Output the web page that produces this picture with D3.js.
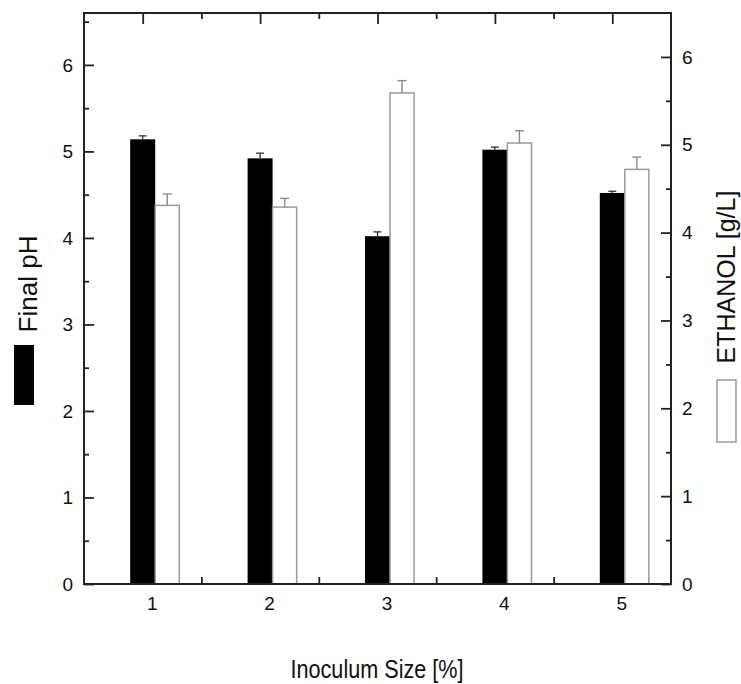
<!DOCTYPE html>
<html>
<head>
<meta charset="utf-8">
<script src="https://cdn.jsdelivr.net/npm/d3@7"></script>
<style>
  body { margin: 0; background: #fff; }
  svg { display: block; font-family: "Liberation Sans", Arial, sans-serif; }
</style>
</head>
<body>
<svg id="chart" width="741" height="684"></svg>
<script>
// inoculum size categories
const sizes = [1, 2, 3, 4, 5];
// final pH (left axis) and its error
const ph = [5.14, 4.92, 4.02, 5.02, 4.52];
const phErr = [0.04, 0.06, 0.05, 0.03, 0.02];
// ethanol g/L (right axis) and its error
const ethanol = [4.31, 4.29, 5.59, 5.02, 4.72];
const ethErr = [0.13, 0.10, 0.14, 0.14, 0.14];

const leftTicks = [0, 1, 2, 3, 4, 5, 6];
const rightTicks = [0, 1, 2, 3, 4, 5, 6];

function render() {
  const svg = d3.select('#chart');
  const L = 84, R = 671, T = 13, B = 584;

  const x = d3.scaleLinear().domain([0.5, 5.5]).range([L, R]);
  const yL = d3.scaleLinear().domain([0, 6.6]).range([B, T]);
  const yR = d3.scaleLinear().domain([0, 6.5]).range([B, T]);

  const unit = x(2) - x(1);
  const bw = unit * 0.213;   // black bar width
  const ww = unit * 0.205;   // white bar width

  // bars - black (pH)
  svg.selectAll('.bar-ph')
    .data(sizes)
    .enter()
    .append('rect')
    .attr('class', 'bar-ph')
    .attr('x', (d) => x(d) - bw / 2)
    .attr('y', (d, i) => yL(ph[i]))
    .attr('width', bw)
    .attr('height', (d, i) => B - yL(ph[i]))
    .attr('fill', '#000');

  // bars - white (ethanol)
  svg.selectAll('.bar-eth')
    .data(sizes)
    .enter()
    .append('rect')
    .attr('class', 'bar-eth')
    .attr('x', (d) => x(d) + bw / 2)
    .attr('y', (d, i) => yR(ethanol[i]))
    .attr('width', ww)
    .attr('height', (d, i) => B - yR(ethanol[i]))
    .attr('fill', '#fff')
    .attr('stroke', '#9a9a9a')
    .attr('stroke-width', 1.5);

  // error bars (upper half only)
  const cap = 4;
  sizes.forEach((d, i) => {
    const cx = x(d);
    svg.append('line').attr('x1', cx).attr('x2', cx)
      .attr('y1', yL(ph[i])).attr('y2', yL(ph[i] + phErr[i]))
      .attr('stroke', '#222').attr('stroke-width', 1.2);
    svg.append('line').attr('x1', cx - cap).attr('x2', cx + cap)
      .attr('y1', yL(ph[i] + phErr[i])).attr('y2', yL(ph[i] + phErr[i]))
      .attr('stroke', '#222').attr('stroke-width', 1.2);

    const wx = x(d) + bw / 2 + ww / 2;
    svg.append('line').attr('x1', wx).attr('x2', wx)
      .attr('y1', yR(ethanol[i])).attr('y2', yR(ethanol[i] + ethErr[i]))
      .attr('stroke', '#8a8a8a').attr('stroke-width', 1.4);
    svg.append('line').attr('x1', wx - cap - 0.5).attr('x2', wx + cap + 0.5)
      .attr('y1', yR(ethanol[i] + ethErr[i])).attr('y2', yR(ethanol[i] + ethErr[i]))
      .attr('stroke', '#8a8a8a').attr('stroke-width', 1.4);
  });

  const axisColor = '#222';

  // left axis
  const leftMinor = d3.range(0.5, 6.6, 1);
  const gl = svg.append('g').attr('transform', `translate(${L},0)`);
  gl.call(d3.axisRight(yL).tickValues(leftMinor).tickSize(5).tickFormat(''));
  gl.call(g => g.selectAll('.domain').remove());
  const gl2 = svg.append('g').attr('transform', `translate(${L},0)`);
  gl2.call(d3.axisLeft(yL).tickValues(leftTicks).tickSize(0).tickPadding(11).tickFormat(d3.format('d')));
  gl2.selectAll('.tick').append('line').attr('x2', 10);
  gl2.select('.domain').remove();

  // right axis
  const rightMinor = d3.range(0.5, 6.5, 1);
  const gr = svg.append('g').attr('transform', `translate(${R},0)`);
  gr.call(d3.axisLeft(yR).tickValues(rightMinor).tickSize(5).tickFormat(''));
  gr.call(g => g.selectAll('.domain').remove());
  const gr2 = svg.append('g').attr('transform', `translate(${R},0)`);
  gr2.call(d3.axisRight(yR).tickValues(rightTicks).tickSize(0).tickPadding(11).tickFormat(d3.format('d')));
  gr2.selectAll('.tick').append('line').attr('x2', -10);
  gr2.select('.domain').remove();

  // bottom axis
  const xMinor = d3.range(1.5, 5, 1);
  const gb = svg.append('g').attr('transform', `translate(0,${B})`);
  gb.call(d3.axisTop(x).tickValues(xMinor).tickSize(7).tickFormat(''));
  gb.select('.domain').remove();
  const gb2 = svg.append('g').attr('transform', `translate(0,${B})`);
  gb2.call(d3.axisBottom(x).tickValues(sizes).tickSize(0).tickPadding(13).tickFormat(d3.format('d')));
  gb2.select('.domain').remove();
  gb2.selectAll('.tick text').attr('dx', 9);

  // top axis
  const gt = svg.append('g').attr('transform', `translate(0,${T})`);
  gt.call(d3.axisBottom(x).tickValues(sizes).tickSize(11).tickFormat(''));
  gt.select('.domain').remove();
  const gt2 = svg.append('g').attr('transform', `translate(0,${T})`);
  gt2.call(d3.axisBottom(x).tickValues(xMinor).tickSize(6).tickFormat(''));
  gt2.select('.domain').remove();

  svg.selectAll('.tick line').attr('stroke', axisColor).attr('stroke-width', 1.8);
  svg.selectAll('.tick text')
    .attr('font-size', 19)
    .attr('fill', '#111')
    .attr('font-family', '"Liberation Sans", Arial, sans-serif');

  // frame
  svg.append('rect')
    .attr('x', L).attr('y', T)
    .attr('width', R - L).attr('height', B - T)
    .attr('fill', 'none')
    .attr('stroke', axisColor)
    .attr('stroke-width', 2);

  // axis titles
  svg.append('text')
    .attr('x', 377).attr('y', 678)
    .attr('text-anchor', 'middle')
    .attr('font-size', 25)
    .attr('textLength', 173)
    .attr('lengthAdjust', 'spacingAndGlyphs')
    .attr('fill', '#111')
    .text('Inoculum Size [%]');

  svg.append('text')
    .attr('transform', 'translate(37,284) rotate(-90)')
    .attr('text-anchor', 'middle')
    .attr('font-size', 26)
    .attr('fill', '#111')
    .text('Final pH');

  svg.append('text')
    .attr('transform', 'translate(735,277) rotate(-90)')
    .attr('text-anchor', 'middle')
    .attr('font-size', 25)
    .attr('fill', '#111')
    .text('ETHANOL [g/L]');

  // legend swatches
  svg.append('rect')
    .attr('x', 14).attr('y', 345).attr('width', 20).attr('height', 60)
    .attr('fill', '#000');
  svg.append('rect')
    .attr('x', 717).attr('y', 380).attr('width', 19).attr('height', 62)
    .attr('fill', '#fff')
    .attr('stroke', '#9a9a9a')
    .attr('stroke-width', 1.5);
}

document.addEventListener('DOMContentLoaded', render);
</script>
</body>
</html>
